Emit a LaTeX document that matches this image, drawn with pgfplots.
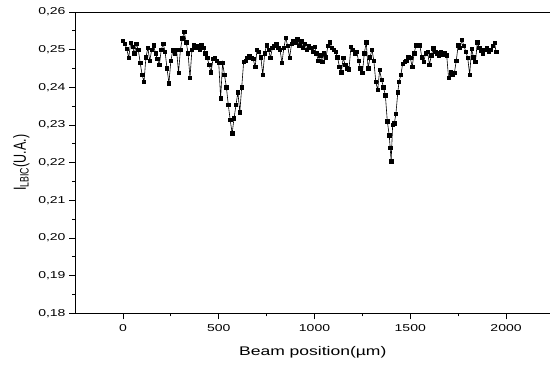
\documentclass[border=0pt]{standalone}
\usepackage{pgfplots}
\pgfplotsset{compat=1.18}
\usepackage{fontspec}
\setmainfont{Liberation Sans}
\usepackage{graphicx}
\newcommand{\sx}[1]{\scalebox{1.4}[1]{#1}}
\pgfplotstableread{
x y
0 0.2524
10 0.2515
20 0.2502
30 0.2478
40 0.2518
50 0.2508
60 0.2490
70 0.2515
80 0.2500
90 0.2465
100 0.2433
110 0.2415
120 0.2480
130 0.2505
140 0.2470
150 0.2500
160 0.2512
170 0.2490
180 0.2475
190 0.2460
200 0.2500
210 0.2515
220 0.2495
230 0.2450
240 0.2411
250 0.2470
260 0.2498
270 0.2490
280 0.2500
290 0.2438
300 0.2500
310 0.2530
320 0.2547
330 0.2520
340 0.2490
350 0.2425
360 0.2500
370 0.2512
380 0.2505
390 0.2510
400 0.2500
410 0.2512
420 0.2505
430 0.2490
440 0.2478
450 0.2460
460 0.2440
470 0.2475
480 0.2478
490 0.2470
500 0.2465
510 0.2371
520 0.2465
530 0.2433
540 0.2400
550 0.2353
560 0.2313
570 0.2278
580 0.2318
590 0.2353
600 0.2387
610 0.2334
620 0.2400
630 0.2467
640 0.2470
650 0.2478
660 0.2482
670 0.2478
680 0.2475
690 0.2454
700 0.2500
710 0.2495
720 0.2480
730 0.2433
740 0.2490
750 0.2512
760 0.2500
770 0.2478
780 0.2505
790 0.2510
800 0.2515
810 0.2505
820 0.2500
830 0.2465
840 0.2505
850 0.2531
860 0.2510
870 0.2478
880 0.2515
890 0.2522
900 0.2520
910 0.2528
920 0.2510
930 0.2522
940 0.2505
950 0.2515
960 0.2500
970 0.2510
980 0.2505
990 0.2495
1000 0.2508
1010 0.2490
1020 0.2470
1030 0.2485
1040 0.2467
1050 0.2490
1060 0.2480
1070 0.2510
1080 0.2520
1090 0.2505
1100 0.2500
1110 0.2495
1120 0.2480
1130 0.2455
1140 0.2440
1150 0.2478
1160 0.2460
1170 0.2450
1180 0.2448
1190 0.2507
1200 0.2500
1210 0.2490
1220 0.2495
1230 0.2470
1240 0.2450
1250 0.2438
1260 0.2490
1270 0.2520
1280 0.2450
1290 0.2480
1300 0.2500
1310 0.2470
1320 0.2414
1330 0.2393
1340 0.2446
1350 0.2420
1360 0.2400
1370 0.2379
1380 0.2310
1390 0.2273
1395 0.2240
1400 0.2204
1408 0.2300
1417 0.2305
1425 0.2330
1435 0.2387
1441 0.2414
1451 0.2433
1460 0.2462
1470 0.2468
1480 0.2470
1490 0.2480
1500 0.2478
1510 0.2455
1520 0.2490
1530 0.2512
1540 0.2510
1550 0.2512
1560 0.2480
1570 0.2467
1580 0.2490
1590 0.2495
1600 0.2460
1610 0.2485
1620 0.2504
1630 0.2495
1640 0.2490
1650 0.2485
1660 0.2495
1670 0.2488
1680 0.2492
1690 0.2485
1700 0.2425
1710 0.2440
1720 0.2435
1730 0.2438
1740 0.2470
1750 0.2512
1760 0.2505
1770 0.2526
1780 0.2510
1790 0.2495
1800 0.2478
1810 0.2433
1820 0.2502
1830 0.2480
1840 0.2467
1850 0.2520
1860 0.2505
1870 0.2498
1880 0.2490
1890 0.2500
1900 0.2504
1910 0.2495
1920 0.2500
1930 0.2510
1940 0.2518
1948 0.2494
}\lbic
\begin{document}
\begin{tikzpicture}
\begin{axis}[
  scale only axis, width=475pt, height=301pt,
  xmin=-250, xmax=2232, ymin=0.18, ymax=0.26,
  xtick={0,500,1000,1500,2000},
  ytick={0.18,0.19,0.20,0.21,0.22,0.23,0.24,0.25,0.26},
  minor x tick num=1, minor y tick num=1,
  tick align=outside, tick pos=left,
  major tick length=6pt, minor tick length=3pt,
  axis line style={line width=0.8pt},
  every tick/.style={black, line width=0.8pt},
  /pgf/number format/assume math mode=true,
  yticklabel={\sx{\pgfmathprintnumber[fixed,fixed zerofill,precision=2,use comma]{\tick}}},
  xticklabel={\sx{\pgfmathprintnumber[1000 sep={}]{\tick}}},
  tick label style={font=\fontsize{10}{12}\selectfont},
  xticklabel style={yshift=-2pt},
  xlabel={\sx{Beam position(µm)}},
  ylabel={\scalebox{1}[1.4]{I\textsubscript{LBIC}(U.A.)}},
  label style={font=\fontsize{12.5}{14}\selectfont},
  xlabel style={yshift=-8pt},
  ylabel style={yshift=2pt},
]
\addplot[black, line width=0.6pt, mark=square*, mark size=1.7pt] table[x=x,y=y] {\lbic};
\end{axis}
\pgfresetboundingbox
\path[use as bounding box] ([xshift=-75pt,yshift=-51pt]current axis.south west) rectangle ([xshift=-0.5pt,yshift=12pt]current axis.north east);
\end{tikzpicture}
\end{document}
